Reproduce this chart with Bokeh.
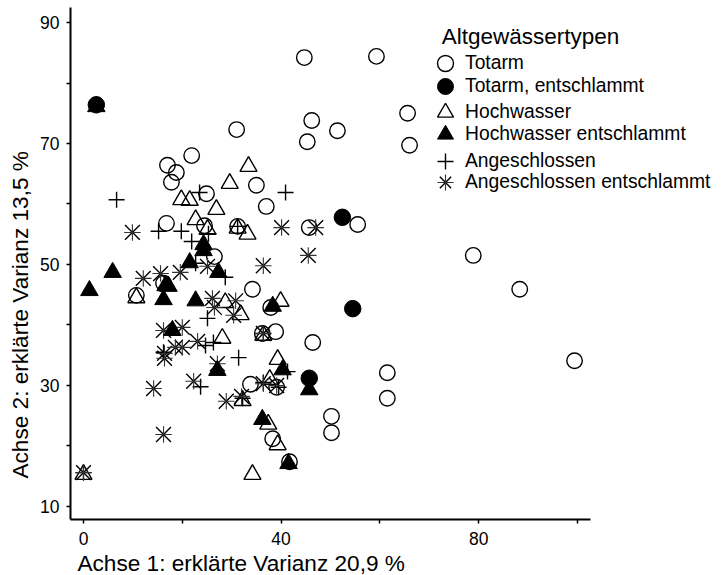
from bokeh.plotting import figure
from bokeh.models import Legend, LegendItem, Label, FixedTicker, Range1d, Title
from bokeh.embed import file_html
from bokeh.resources import INLINE

totarm_x = [44.7,59.3,65.6,46.2,51.4,66.0,45.3,31.0,21.9,17.0,18.8,17.8,35.0,24.9,37.0,16.8,24.5,31.2,45.7,55.5,26.5,78.9,88.3,99.4,34.2,16.2,10.7,37.9,38.9,46.4,36.2,33.8,39.1,61.5,61.5,50.2,50.2,38.3,41.7]
totarm_y = [84.2,84.4,75.0,73.8,72.1,69.7,70.3,72.3,68.0,66.4,65.2,63.6,63.1,61.7,59.6,56.8,56.4,56.3,56.1,56.6,51.3,51.5,45.9,34.1,45.9,46.9,44.9,42.9,38.9,37.1,38.6,30.2,29.7,32.1,27.9,24.9,22.2,21.2,17.4]
totarm_e_x = [2.6,52.4,54.5,45.7]
totarm_e_y = [76.4,57.8,42.7,31.2]
hoch_x = [33.4,29.6,19.8,21.5,26.9,22.7,25.1,31.2,33.2,10.7,28.7,31.8,39.9,28.1,36.4,39.3,37.7,32.2,37.4,39.3,34.2,0.0]
hoch_y = [66.2,63.4,60.7,60.6,59.1,57.4,55.8,56.0,55.0,44.5,43.7,41.7,43.9,37.8,38.3,34.3,31.0,27.5,23.6,20.2,15.3,15.3]
hoch_e_x = [1.2,5.9,16.2,22.7,16.6,17.2,21.5,24.3,24.3,27.3,18.0,2.6,27.1,40.3,36.2,45.7,41.5,38.3]
hoch_e_y = [45.7,48.7,44.2,44.0,46.5,46.4,50.3,52.3,53.3,48.7,39.1,76.1,32.5,32.6,24.4,29.3,17.1,43.1]
ang_x = [6.7,23.5,15.2,19.8,21.9,40.9,25.3,22.7,28.7,25.1,24.7,26.3,16.2,31.4,23.7,41.3,36.4,31.2,36.4,39.5,32.2,0.0]
ang_y = [60.7,61.9,55.5,55.5,53.8,61.9,55.1,50.2,47.9,41.1,36.6,37.1,35.5,34.6,29.8,32.3,30.5,56.3,38.6,29.7,27.9,15.6]
ang_e_x = [9.9,40.1,47.0,45.5,36.4,12.1,15.6,19.6,25.1,26.1,26.5,30.4,30.8,16.2,20.0,18.6,20.0,23.1,16.4,16.4,22.3,14.2,27.1,28.9,32.0,36.4,39.1,36.4,16.2,0.0]
ang_e_y = [55.3,56.1,56.1,51.5,49.8,47.7,48.5,48.7,49.7,44.4,42.9,41.6,44.0,39.1,39.6,36.3,36.3,37.3,34.5,35.3,30.7,29.5,33.6,27.4,28.2,30.3,30.0,38.6,21.9,15.6]
x_ticks = [0,20,40,60,80,100]
x_labels = {0:"0",20:"",40:"40",60:"",80:"80",100:""}
y_ticks = [10,20,30,40,50,60,70,80,90]
y_labels = {10:"10",20:"",30:"30",40:"",50:"50",60:"",70:"70",80:"",90:"90"}
x_title = "Achse 1: erklärte Varianz 20,9 %"
y_title = "Achse 2: erklärte Varianz 13,5 %"
legend_title = "Altgewässertypen"

FONT = "Liberation Sans"
LW = 1.4
X0, X1 = -2.63, 102.6

p = figure(width=723, height=575, output_backend="svg", toolbar_location=None,
           x_range=Range1d(X0, 129.55), y_range=Range1d(7.85, 92.48),
           frame_width=653, frame_height=512,
           min_border_left=70, min_border_right=0, min_border_top=7, min_border_bottom=56,
           background_fill_color="white", border_fill_color="white",
           outline_line_color=None)
p.grid.visible = False
p.xaxis.ticker = FixedTicker(ticks=x_ticks)
p.yaxis.ticker = FixedTicker(ticks=y_ticks)
p.xaxis.major_label_overrides = x_labels
p.yaxis.major_label_overrides = y_labels
p.xaxis.bounds = (X0, X1)
for ax in (p.xaxis[0], p.yaxis[0]):
    ax.axis_line_width = 2
    ax.axis_line_color = "black"
    ax.major_tick_line_color = "black"
    ax.major_tick_line_width = 1.5
    ax.major_tick_in = 0
    ax.major_tick_out = 4
    ax.minor_tick_line_color = None
    ax.major_label_text_font = FONT
    ax.major_label_text_font_size = "17.5px"
    ax.major_label_text_color = "black"
p.xaxis.major_label_standoff = 8
p.yaxis.major_label_standoff = 7

kw = dict(line_color="black", line_width=LW, fill_color=None)
r_tot = p.scatter(totarm_x, totarm_y, marker="circle", size=15.5, **kw)
r_hoch = p.scatter(hoch_x, hoch_y, marker="triangle", size=17, **kw)
r_ang = p.scatter(ang_x, ang_y, marker="cross", size=16, **kw)
r_ang_e = p.scatter(ang_e_x, ang_e_y, marker="x", size=21, **kw)
r_ang_e2 = p.scatter(ang_e_x, ang_e_y, marker="cross", size=16.5, line_color="#333333", line_width=1.1)
r_tot_e = p.scatter(totarm_e_x, totarm_e_y, marker="circle", size=16.5, color="black")
r_hoch_e = p.scatter(hoch_e_x, hoch_e_y, marker="triangle", size=17.5, color="black")

def legend(text, rs, center_y):
    lg = Legend(items=[LegendItem(label=text, renderers=rs)],
                location=(355, 519 - center_y - 20), orientation="vertical",
                glyph_width=40, glyph_height=40, label_standoff=0, spacing=0,
                padding=0, margin=0, background_fill_alpha=0, border_line_color=None,
                label_text_font=FONT, label_text_font_size="19.3px", label_text_color="black")
    p.add_layout(lg, "center")

legend("Totarm", [r_tot], 63)
legend("Totarm, entschlammt", [r_tot_e], 86)
legend("Hochwasser", [r_hoch], 112)
legend("Hochwasser entschlammt", [r_hoch_e], 134)
legend("Angeschlossen", [r_ang], 161)
legend("Angeschlossen entschlammt", [r_ang_e, r_ang_e2], 182)

p.add_layout(Label(x=72.5, y=87.7, text=legend_title, text_baseline="middle",
                   text_font=FONT, text_font_size="22.5px", text_color="black"))
p.add_layout(Title(text=x_title, align="left", offset=7, standoff=2, text_font=FONT,
                   text_font_size="22.6px", text_font_style="normal", text_color="black"), "below")
p.add_layout(Title(text=y_title, align="left", offset=41, standoff=10, text_font=FONT,
                   text_font_size="22.6px", text_font_style="normal", text_color="black"), "left")

open("out.html", "w").write(file_html(p, INLINE))
